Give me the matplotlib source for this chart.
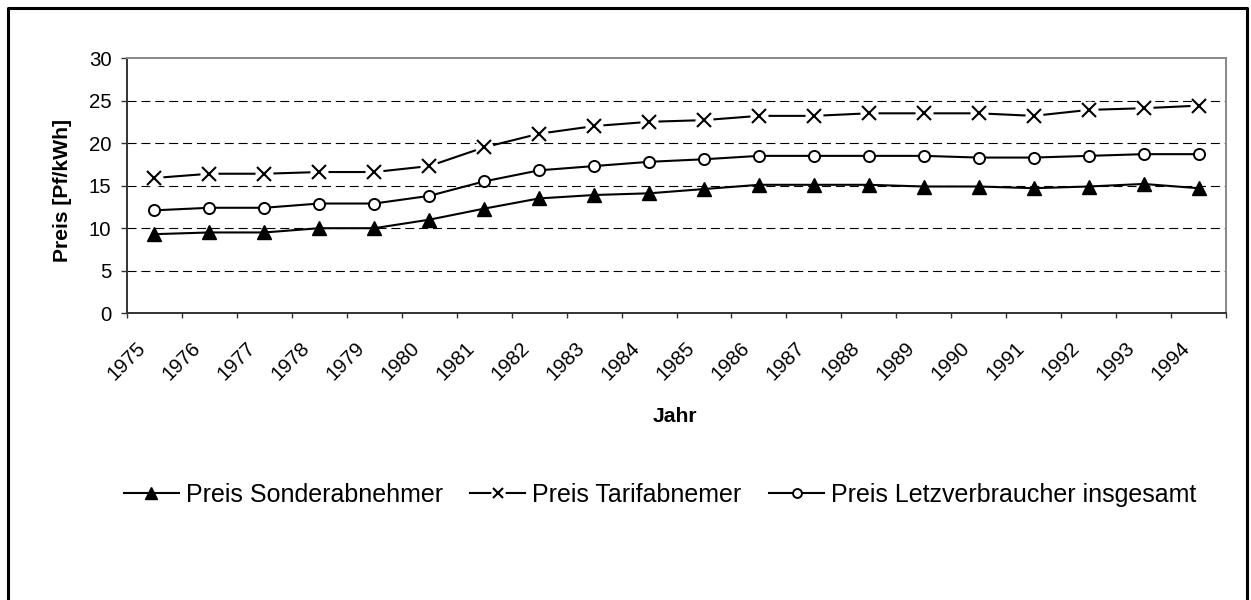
import numpy as np
import matplotlib
matplotlib.use('Agg')
from matplotlib import pyplot as plt
from matplotlib.lines import Line2D
from matplotlib import transforms

plt.rcParams['font.family'] = ['Liberation Sans', 'DejaVu Sans']
plt.rcParams['lines.scale_dashes'] = False

years = [str(y) for y in range(1975, 1995)]
sonder = [9.3, 9.5, 9.5, 10.0, 10.0, 11.0, 12.3, 13.5, 13.9, 14.1,
          14.6, 15.1, 15.1, 15.1, 14.9, 14.9, 14.7, 14.9, 15.2, 14.7]
tarif = [15.9, 16.4, 16.4, 16.6, 16.6, 17.3, 19.5, 21.1, 22.0, 22.5,
         22.7, 23.2, 23.2, 23.5, 23.5, 23.5, 23.2, 23.9, 24.1, 24.4]
letzt = [12.1, 12.4, 12.4, 12.9, 12.9, 13.8, 15.5, 16.8, 17.3, 17.8,
         18.1, 18.5, 18.5, 18.5, 18.5, 18.3, 18.3, 18.5, 18.7, 18.7]
labels = ['Preis Sonderabnehmer', 'Preis Tarifabnemer', 'Preis Letzverbraucher insgesamt']

W, H = 1251, 600
fig = plt.figure(figsize=(W / 100, H / 100), dpi=100)
ax = fig.add_axes([127 / W, 1 - 313.3 / H, (1226 - 127) / W, (313.3 - 58) / H])

x = np.arange(len(years))

# dashed grid
for v in range(5, 30, 5):
    ax.axhline(v, color='black', lw=0.8, ls=(0, (6.5, 3.5)), zorder=1)

h1, = ax.plot(x, sonder, color='black', lw=1.5, marker='^', ms=10,
              mfc='black', mec='black', zorder=3)
h2, = ax.plot(x, tarif, color='black', lw=1.5, zorder=3)
bg2, = ax.plot(x, tarif, ls='none', marker='o', ms=13, mfc='white', mec='none', zorder=4)
mk2, = ax.plot(x, tarif, ls='none', marker='x', ms=9.5, mew=1.5, color='black', zorder=5)
h3, = ax.plot(x, letzt, color='black', lw=1.5, marker='o', ms=8, mfc='white',
              mec='black', mew=1.4, zorder=3)

ax.set_xlim(-0.5, len(years) - 0.5)
ax.set_ylim(0, 30)
ax.set_yticks(range(0, 31, 5))
ax.tick_params(axis='y', length=4.3, width=1, color='#333333', pad=7, labelsize=14.7)

ax.set_xticks(x)
ax.set_xticklabels(years, rotation=45, ha='right', va='top', rotation_mode='anchor')
ax.set_xticks(np.arange(-0.5, len(years)), minor=True)
ax.tick_params(axis='x', which='major', length=0, pad=18, labelsize=14.7)
ax.tick_params(axis='x', which='minor', length=3.6, width=1, color='#333333')
off = transforms.ScaledTranslation(-19 / 100, 0, fig.dpi_scale_trans)
for lab in ax.get_xticklabels():
    lab.set_transform(lab.get_transform() + off)

for s in ['left', 'bottom']:
    ax.spines[s].set_color('#333333')
    ax.spines[s].set_linewidth(1.4)
for s in ['top', 'right']:
    ax.spines[s].set_color('#888888')
    ax.spines[s].set_linewidth(1.4)

fig.text(63 / W, 1 - 190 / H, 'Preis [Pf/kWh]', rotation=90, ha='center', va='center',
         fontsize=15.2, fontweight='bold')
fig.text(675 / W, 1 - 417 / H, 'Jahr', ha='center', va='center',
         fontsize=15.2, fontweight='bold')

fig.legend([h1, (h2, bg2, mk2), h3], labels, loc='center',
           bbox_to_anchor=(660 / W, 1 - 495 / H), ncol=3, frameon=False,
           fontsize=18, handlelength=2.2, handletextpad=0.28, columnspacing=1.1,
           markerscale=0.8)

# outer frame (open at the bottom)
fx = [7.5 / W, 7.5 / W, 1246.5 / W, 1246.5 / W]
fy = [0, 1 - 7.5 / H, 1 - 7.5 / H, 0]
fig.add_artist(Line2D(fx, fy, transform=fig.transFigure, color='black', lw=2.2))

fig.savefig('out.png', dpi=100)
